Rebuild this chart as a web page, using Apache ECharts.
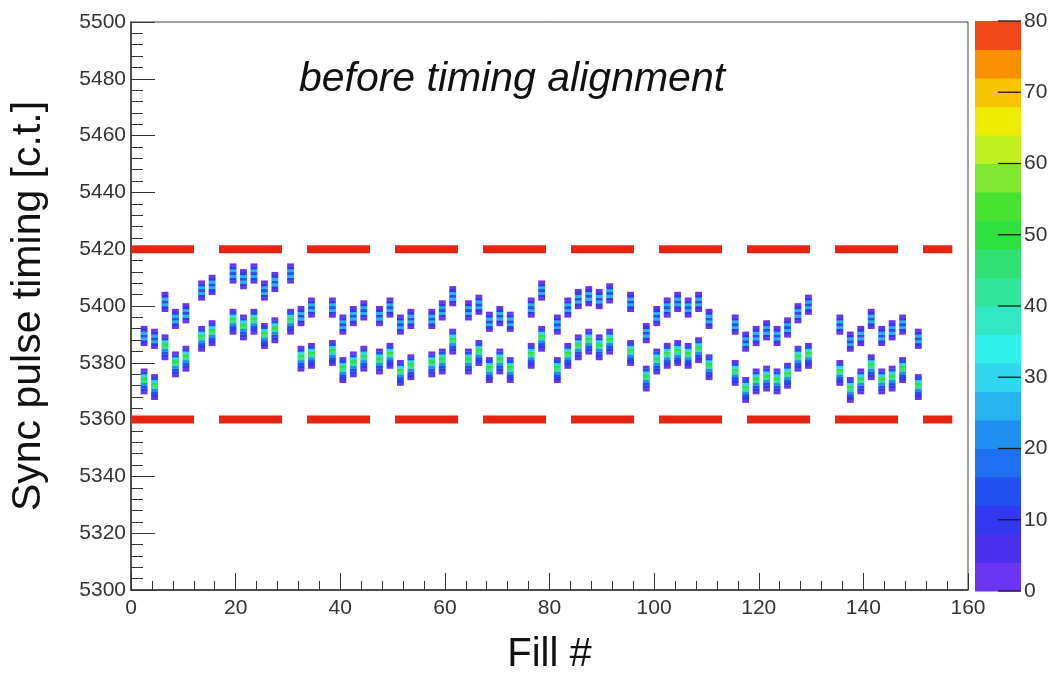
<!DOCTYPE html>
<html><head><meta charset="utf-8">
<script src="https://cdn.jsdelivr.net/npm/echarts@6/dist/echarts.min.js"></script>
<style>html,body{margin:0;padding:0;background:#fff}#c{width:1052px;height:681px}</style>
</head><body><div id="c"></div>
<script>
// ---- data ----
const fills = [2,4,6,8,10,13,15,19,21,23,25,27,30,32,34,38,40,42,44,47,49,51,53,57,59,61,64,66,68,70,72,76,78,81,83,85,87,89,91,95,98,100,102,104,106,108,110,115,117,119,121,123,125,127,129,135,137,139,141,143,145,147,150];
const upperBase = [5387,5386,5399,5393,5395,5403,5405,5409,5407,5409,5403,5406,5409,5394,5397,5397,5391,5394,5396,5394,5397,5391,5393,5393,5396,5401,5396,5398,5392,5394,5392,5397,5403,5391,5397,5400,5401,5400,5402,5399,5388,5394,5397,5399,5397,5399,5393,5391,5385,5387,5389,5387,5390,5395,5398,5391,5385,5387,5393,5387,5389,5391,5386];
const lowerBase = [5370,5368,5382,5376,5378,5385,5387,5391,5389,5391,5386,5388,5391,5378,5379,5380,5374,5376,5378,5377,5379,5373,5375,5376,5377,5384,5377,5380,5374,5377,5374,5379,5385,5374,5379,5382,5384,5382,5384,5380,5371,5377,5379,5380,5379,5381,5375,5373,5367,5370,5371,5370,5372,5378,5379,5373,5367,5370,5375,5370,5371,5374,5368];
// counts per 1-c.t. bin, bottom -> top
const upperProfile = [3, 11, 24, 14, 26, 10, 3];
const lowerProfile = [3, 10, 12, 22, 42, 50, 28, 12, 3];
const cutLines = [5420, 5360];
const cutLineRange = [0, 157];
const xRange = [0, 160, 20];
const yRange = [5300, 5500, 20];
const zRange = [0, 80, 10];
const zTicks = [0, 10, 20, 30, 40, 50, 60, 70, 80];
const palette = ['#6a34f2','#4c30f0','#3238f0','#2050f2','#1f70f0','#2090f0','#26b2f0','#2ed6f0','#30f0ec','#30e8c4','#30e49a','#30e070','#2ee040','#48e230','#80e830','#c0f020','#f0ec00','#f8c400','#f89000','#f04818'];
const paletteStep = 4;
const titleText = 'before timing alignment';
const xName = 'Fill #';
const yName = 'Sync pulse timing [c.t.]';

// ---- build ----
const cells = [];
fills.forEach((f, i) => {
  upperProfile.forEach((c, k) => cells.push([f, upperBase[i] - 1 + k, c]));
  lowerProfile.forEach((c, k) => cells.push([f, lowerBase[i] - 1 + k, c]));
});
const bands = palette.map((c, i) => [i * paletteStep, (i + 1) * paletteStep, i]);
function colorOf(v) { return palette[Math.max(0, Math.min(palette.length - 1, Math.floor(v / paletteStep)))]; }

const FONT = '"Liberation Sans", Arial, Helvetica, sans-serif';
const chart = echarts.init(document.getElementById('c'), null, {renderer: 'canvas'});
const axisTxt = {fontFamily: FONT, fontSize: 21, color: '#333'};
const plain = v => String(v);

chart.setOption({
  animation: false,
  backgroundColor: '#fff',
  grid: [
    {left: 127, right: 84, top: 22, bottom: 91, show: true, borderColor: '#444', borderWidth: 1, containLabel: false},
    {left: 975, width: 46, top: 21, height: 570, show: false, containLabel: false}
  ],
  xAxis: [
    {type: 'value', gridIndex: 0, min: xRange[0], max: xRange[1], interval: xRange[2],
     name: xName, nameLocation: 'middle', nameGap: 45,
     nameTextStyle: {fontFamily: FONT, fontSize: 40, color: '#111'},
     axisLine: {show: true, onZero: false, lineStyle: {color: '#333', width: 1.5}},
     axisTick: {show: true, inside: true, length: 17, lineStyle: {color: '#333'}},
     minorTick: {show: true, splitNumber: 5, length: 9, lineStyle: {color: '#333'}},
     splitLine: {show: false},
     axisLabel: Object.assign({margin: 8, formatter: plain}, axisTxt)},
    {type: 'value', gridIndex: 1, min: 0, max: 1, show: false}
  ],
  yAxis: [
    {type: 'value', gridIndex: 0, min: yRange[0], max: yRange[1], interval: yRange[2],
     name: yName, nameLocation: 'middle', nameGap: 82, nameRotate: 90,
     nameTextStyle: {fontFamily: FONT, fontSize: 41, color: '#111'},
     axisLine: {show: true, onZero: false, lineStyle: {color: '#333', width: 1.5}},
     axisTick: {show: true, inside: true, length: 24, lineStyle: {color: '#333'}},
     minorTick: {show: true, splitNumber: 5, length: 12, lineStyle: {color: '#333'}},
     splitLine: {show: false},
     axisLabel: Object.assign({margin: 5, formatter: plain}, axisTxt)},
    {type: 'value', gridIndex: 1, min: zRange[0], max: zRange[1], interval: zRange[2], position: 'right',
     axisLine: {show: false},
     axisTick: {show: false},
     splitLine: {show: false},
     axisLabel: Object.assign({margin: 3, formatter: plain}, axisTxt)}
  ],
  graphic: [
    {type: 'text', x: 512, y: 80,
     style: {text: titleText, align: 'center', verticalAlign: 'middle',
             font: 'italic 41px ' + FONT, fill: '#111'}}
  ],
  series: [
    {type: 'custom', xAxisIndex: 1, yAxisIndex: 1, data: bands, encode: {x: -1, y: [0, 1]}, z: 1,
     renderItem: function (params, api) {
       const p0 = api.coord([0, api.value(1)]);
       const p1 = api.coord([1, api.value(0)]);
       return {type: 'rect', shape: {x: p0[0], y: p0[1], width: p1[0] - p0[0], height: p1[1] - p0[1] + 0.5},
               style: {fill: palette[api.value(2)]}};
     }},
    {type: 'custom', xAxisIndex: 1, yAxisIndex: 1, data: zTicks.map(v => [v]), encode: {x: -1, y: 0}, z: 5,
     renderItem: function (params, api) {
       const p = api.coord([1, api.value(0)]);
       const w = api.size([1, 0])[0];
       return {type: 'line', shape: {x1: p[0], y1: p[1], x2: p[0] - w * 0.5, y2: p[1]},
               style: {stroke: '#1a1a1a', lineWidth: 1.3}};
     }},
    {type: 'custom', xAxisIndex: 0, yAxisIndex: 0, data: cells, encode: {x: 0, y: 1}, clip: true,
     renderItem: function (params, api) {
       const x = api.value(0), y = api.value(1), v = api.value(2);
       const p0 = api.coord([x, y + 1]);
       const p1 = api.coord([x + 1, y]);
       return {type: 'rect', shape: {x: p0[0] - 0.8, y: p0[1], width: p1[0] - p0[0] + 1.6, height: p1[1] - p0[1] + 0.3},
               style: {fill: colorOf(v)}};
     }},
    ...cutLines.map(v => ({
      type: 'line', xAxisIndex: 0, yAxisIndex: 0, symbol: 'none', silent: true,
      data: [[cutLineRange[0], v], [cutLineRange[1], v]],
      lineStyle: {color: '#e8230f', width: 8, type: [63, 25], cap: 'butt'}
    }))
  ]
});
</script></body></html>
